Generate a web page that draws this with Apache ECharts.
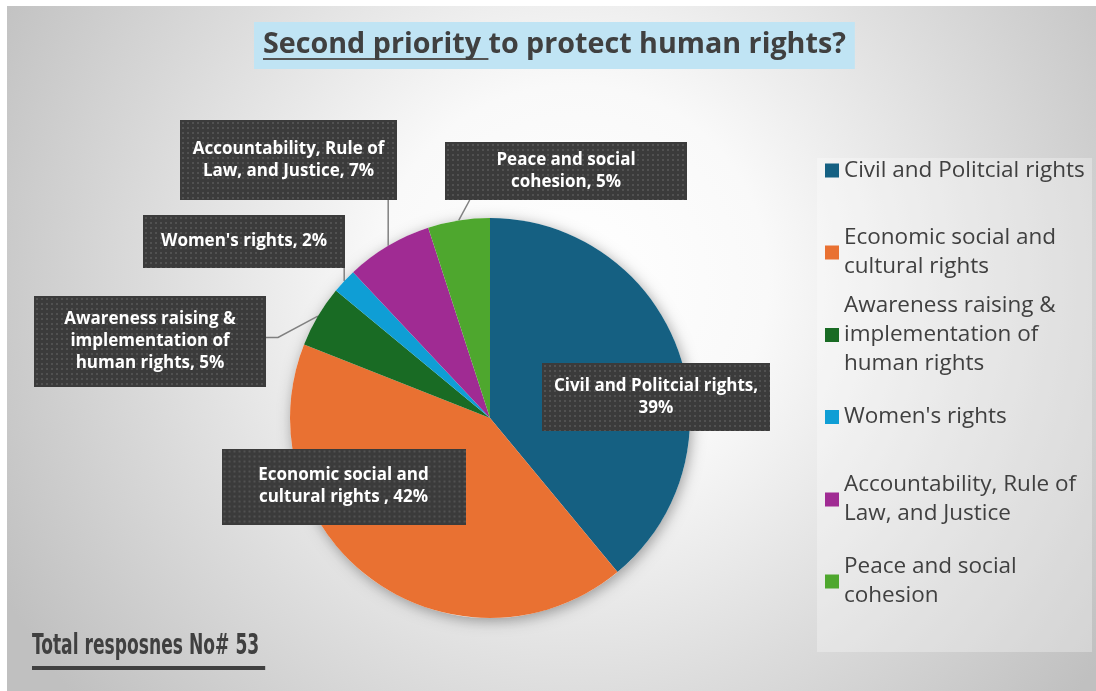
<!DOCTYPE html>
<html>
<head>
<meta charset="utf-8">
<script src="https://cdn.jsdelivr.net/npm/echarts@6/dist/echarts.min.js"></script>
<style>
  html, body { margin: 0; padding: 0; background: #ffffff; }
  #chart { width: 1096px; height: 691px; }
</style>
</head>
<body>
<div id="chart"></div>
<script>
// Survey answers: second priority to protect human rights (share of responses, %)
const categories = [
  'Civil and Politcial rights',
  'Economic social and cultural rights ',
  'Awareness raising & implementation of human rights',
  "Women's rights",
  'Accountability, Rule of Law, and Justice',
  'Peace and social cohesion'
];
const shares = [39, 42, 5, 2, 7, 5];
const sliceColors = ['#156082', '#E97132', '#196B24', '#0F9ED5', '#A02B93', '#4EA72E'];
const titleLead = 'Second priority ';
const titleRest = 'to protect human rights?';
const footnote = 'Total resposnes No# 53 ';

// ---- layout settings ----
const pieCenter = [490, 418];
const pieRadius = 200;
const mainFont = '"Open Sans", Lato, sans-serif';
const labelFontSize = 17;
const labelLineHeight = 22;
// callout boxes: centre, outer size, wrap width, line count
const callouts = [
  { cx: 656,   cy: 397,   w: 228, h: 68, tw: 224, lines: 2 },
  { cx: 343.5, cy: 486.5, w: 244, h: 76, tw: 210, lines: 2 },
  { cx: 150,   cy: 341.5, w: 232, h: 91, tw: 200, lines: 3 },
  { cx: 244,   cy: 241.5, w: 202, h: 53, tw: 196, lines: 1 },
  { cx: 288.5, cy: 160,   w: 217, h: 80, tw: 211, lines: 2 },
  { cx: 566,   cy: 171,   w: 242, h: 58, tw: 190, lines: 2 }
];
const legendIconCenters = [170.5, 252.5, 335, 417, 499.5, 581.5];
const legendLines = [1, 2, 3, 1, 2, 2];
const legendLineHeight = 29;

// word-wrap a callout text to a pixel width
const measureCtx = document.createElement('canvas').getContext('2d');
function wrapWords(text, maxWidth, font) {
  measureCtx.font = font;
  const words = text.split(' ');
  const lines = [];
  let cur = '';
  words.forEach(function (w) {
    const test = cur ? cur + ' ' + w : w;
    if (cur && measureCtx.measureText(test).width > maxWidth) {
      lines.push(cur);
      cur = w;
    } else {
      cur = test;
    }
  });
  if (cur) lines.push(cur);
  return lines.join('\n');
}

// dotted dark fill used behind every callout
function dottedFill(w, h) {
  const c = document.createElement('canvas');
  c.width = w; c.height = h;
  const g = c.getContext('2d');
  g.fillStyle = '#3b3b3b';
  g.fillRect(0, 0, w, h);
  g.fillStyle = '#515151';
  for (let y = 2; y < h; y += 5) {
    for (let x = 2; x < w; x += 5) {
      g.fillRect(x, y, 2, 2);
    }
  }
  return c;
}

function underline(pos, thick, color) {
  return new echarts.graphic.LinearGradient(0, 0, 0, 1, [
    { offset: 0, color: 'rgba(0,0,0,0)' },
    { offset: pos, color: 'rgba(0,0,0,0)' },
    { offset: pos, color: color },
    { offset: pos + thick, color: color },
    { offset: pos + thick, color: 'rgba(0,0,0,0)' },
    { offset: 1, color: 'rgba(0,0,0,0)' }
  ]);
}

const pieData = categories.map((name, i) => {
  const b = callouts[i];
  const padV = (b.h - b.lines * labelLineHeight) / 2;
  const padH = (b.w - b.tw) / 2;
  return {
    name: name,
    value: shares[i],
    itemStyle: { color: sliceColors[i] },
    label: {
      width: b.tw,
      padding: [padV, padH, padV, padH],
      backgroundColor: { image: dottedFill(b.w, b.h) }
    },
    labelLine: { show: i >= 2 }
  };
});

const legends = categories.map((name, i) => ({
  orient: 'vertical',
  left: 825,
  top: legendIconCenters[i] - (2 * legendLines[i] - 1) * legendLineHeight / 2,
  padding: 0,
  itemWidth: 14,
  itemHeight: 14,
  itemGap: 0,
  icon: 'rect',
  selectedMode: false,
  data: [name],
  textStyle: {
    fontFamily: mainFont,
    fontSize: 22.5,
    color: '#404040',
    lineHeight: legendLineHeight,
    width: 250,
    overflow: 'break',
    padding: [(legendLines[i] - 1) * legendLineHeight, 0, 0, 0]
  }
}));

const chart = echarts.init(document.getElementById('chart'), null, { renderer: 'canvas' });

chart.setOption({
  animation: false,
  title: [
    {
      left: 254,
      top: 22,
      padding: [5, 9, 6, 9],
      backgroundColor: '#c0e4f4',
      text: '{u|' + titleLead + '}{n|' + titleRest + '}',
      textStyle: {
        rich: {
          u: {
            fontFamily: mainFont, fontSize: 28.7, fontWeight: 'bold', color: '#404040',
            height: 36, lineHeight: 36,
            backgroundColor: underline(0.87, 0.05, '#555555')
          },
          n: {
            fontFamily: mainFont, fontSize: 28.7, fontWeight: 'bold', color: '#404040',
            height: 36, lineHeight: 36
          }
        }
      }
    }
  ],
  legend: legends,
  graphic: [
    {
      type: 'rect', z: -10, silent: true,
      shape: { x: 7, y: 6, width: 1089, height: 685 },
      style: {
        fill: new echarts.graphic.RadialGradient(0.52, 0.4, 0.95, [
          { offset: 0, color: '#ffffff' },
          { offset: 0.3, color: '#f9f9f9' },
          { offset: 0.65, color: '#dcdcdc' },
          { offset: 1, color: '#c0c0c0' }
        ])
      }
    },
    {
      type: 'rect', z: -9, silent: true,
      shape: { x: 817, y: 158, width: 275, height: 494 },
      style: { fill: 'rgba(255,255,255,0.3)' }
    },
    {
      // footnote set in a condensed face
      type: 'text', z: 5, silent: true,
      x: 32, y: 624, scaleX: 0.68,
      style: {
        text: '{u|' + footnote + '}',
        rich: {
          u: {
            fontFamily: '"DejaVu Sans Condensed", "DejaVu Sans", sans-serif',
            fontSize: 28, fontWeight: 'bold', fill: '#404040',
            height: 46, lineHeight: 46,
            backgroundColor: underline(0.91, 0.08, '#404040')
          }
        }
      }
    }
  ],
  series: [
    {
      // soft drop shadow under the pie
      type: 'pie',
      silent: true,
      z: 1,
      center: pieCenter,
      radius: pieRadius,
      label: { show: false },
      labelLine: { show: false },
      itemStyle: {
        color: '#ffffff',
        shadowBlur: 14,
        shadowOffsetX: 2,
        shadowOffsetY: 3,
        shadowColor: 'rgba(0,0,0,0.35)'
      },
      data: [{ value: shares.reduce((a, b) => a + b, 0), name: 'all' }]
    },
    {
      type: 'pie',
      z: 2,
      center: pieCenter,
      radius: pieRadius,
      startAngle: 90,
      clockwise: true,
      avoidLabelOverlap: false,
      emphasis: { disabled: true },
      itemStyle: { borderWidth: 0 },
      label: {
        show: true,
        position: 'outside',
        formatter: function (p) {
          return wrapWords(p.name + ', ' + p.percent + '%', callouts[p.dataIndex].tw,
            'bold ' + labelFontSize + 'px ' + mainFont);
        },
        fontFamily: mainFont,
        fontSize: labelFontSize,
        fontWeight: 'bold',
        color: '#ffffff',
        lineHeight: labelLineHeight,
        align: 'center',
        overflow: 'none',
        shadowBlur: 6,
        shadowOffsetX: 3,
        shadowOffsetY: 3,
        shadowColor: 'rgba(0,0,0,0.5)'
      },
      labelLine: {
        show: true,
        length: 10,
        length2: 10,
        lineStyle: { color: '#808080', width: 1.5 }
      },
      labelLayout: function (params) {
        const b = callouts[params.dataIndex];
        const out = { x: b.cx, y: b.cy, align: 'center', verticalAlign: 'middle', width: b.tw, hideOverlap: false };
        const pts = params.labelLinePoints;
        if (pts && params.dataIndex >= 2) {
          const a = pts[0];
          const bottom = b.cy + b.h / 2;
          let p;
          if (params.dataIndex === 2) {
            const right = b.cx + b.w / 2;
            const yy = b.cy - 4;
            p = [a, [right + 12, yy], [right, yy]];
          } else if (params.dataIndex === 5) {
            p = [a, [a[0] + 11, bottom], [a[0] + 11, bottom]];
          } else {
            p = [a, [a[0], bottom], [a[0], bottom]];
          }
          out.labelLinePoints = p;
        }
        return out;
      },
      data: pieData
    }
  ]
});
</script>
</body>
</html>
